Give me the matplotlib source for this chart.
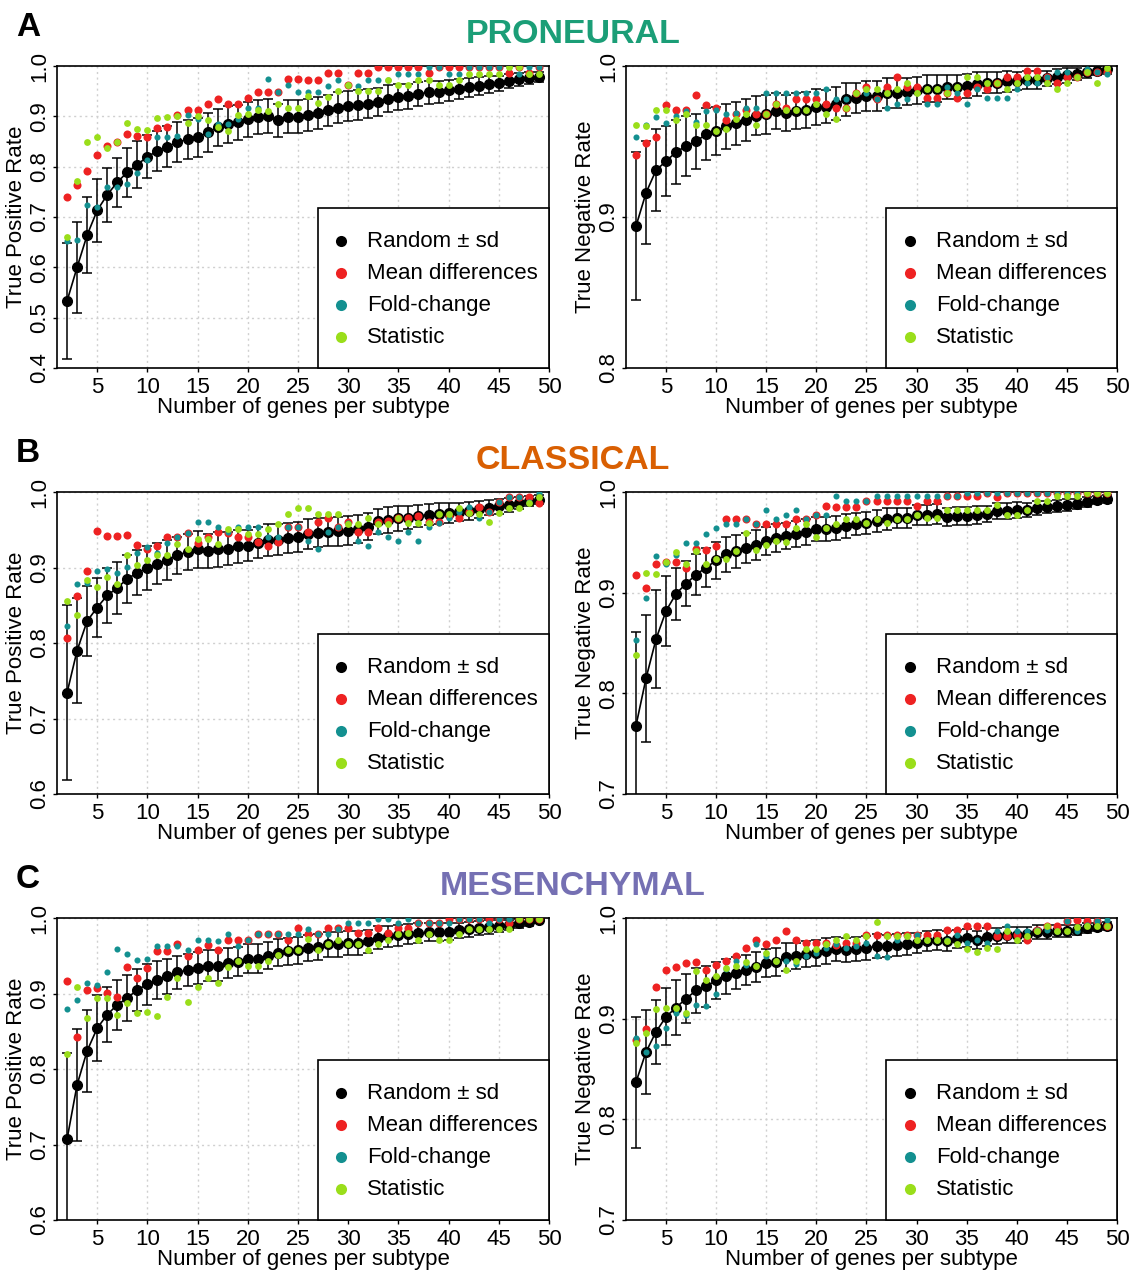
import matplotlib
matplotlib.use("Agg")
import matplotlib.pyplot as plt
from matplotlib.patches import Rectangle

plt.rcParams['font.family'] = ['Liberation Sans', 'DejaVu Sans']

genes = list(range(2, 50))

# ---- PRONEURAL ----
pn_tpr_rand = [0.533, 0.600, 0.664, 0.713, 0.744, 0.769, 0.789, 0.804, 0.820, 0.831,
               0.840, 0.849, 0.854, 0.858, 0.868, 0.878, 0.884, 0.888, 0.894, 0.898,
               0.901, 0.892, 0.899, 0.899, 0.903, 0.907, 0.912, 0.917, 0.920, 0.923,
               0.925, 0.929, 0.935, 0.938, 0.940, 0.944, 0.948, 0.949, 0.952, 0.954,
               0.958, 0.961, 0.964, 0.966, 0.970, 0.974, 0.976, 0.978]
pn_tpr_sd = [0.116, 0.090, 0.076, 0.062, 0.054, 0.049, 0.049, 0.047, 0.043, 0.040,
             0.040, 0.039, 0.038, 0.038, 0.038, 0.036, 0.036, 0.035, 0.035, 0.034,
             0.034, 0.033, 0.033, 0.033, 0.032, 0.032, 0.031, 0.031, 0.030, 0.030,
             0.029, 0.028, 0.027, 0.026, 0.025, 0.024, 0.023, 0.022, 0.021, 0.020,
             0.019, 0.018, 0.017, 0.015, 0.014, 0.013, 0.012, 0.010]
pn_tpr_mean = [0.740, 0.763, 0.792, 0.823, 0.841, 0.849, 0.864, 0.861, 0.859, 0.877,
               0.879, 0.902, 0.912, 0.912, 0.925, 0.935, 0.925, 0.925, 0.937, 0.948,
               0.948, 0.948, 0.974, 0.974, 0.973, 0.973, 0.987, 0.987, 0.962, 0.986,
               0.986, 0.998, 0.998, 0.998, 0.998, 0.998, 0.987, 0.998, 0.998, 0.998,
               0.998, 0.998, 0.998, 0.998, 0.987, 0.998, 0.987, 0.998]
pn_tpr_fold = [0.653, 0.654, 0.723, 0.719, 0.760, 0.760, 0.765, 0.787, 0.813, 0.858,
               0.858, 0.861, 0.902, 0.894, 0.865, 0.884, 0.884, 0.894, 0.917, 0.917,
               0.974, 0.948, 0.962, 0.949, 0.948, 0.948, 0.960, 0.973, 0.963, 0.960,
               0.973, 0.973, 0.973, 0.985, 0.985, 0.985, 0.998, 0.998, 0.985, 0.985,
               0.998, 0.998, 0.998, 0.998, 0.998, 0.985, 0.998, 0.998]
pn_tpr_stat = [0.660, 0.772, 0.849, 0.859, 0.837, 0.849, 0.886, 0.874, 0.872, 0.896,
               0.899, 0.900, 0.887, 0.900, 0.892, 0.879, 0.870, 0.902, 0.904, 0.912,
               0.910, 0.924, 0.917, 0.917, 0.940, 0.927, 0.938, 0.950, 0.963, 0.950,
               0.950, 0.950, 0.973, 0.963, 0.963, 0.973, 0.973, 0.963, 0.963, 0.973,
               0.985, 0.985, 0.985, 0.985, 0.998, 0.998, 0.985, 0.985]

pn_tnr_rand = [0.894, 0.916, 0.931, 0.937, 0.943, 0.947, 0.950, 0.955, 0.957, 0.960,
               0.962, 0.964, 0.967, 0.968, 0.970, 0.969, 0.970, 0.971, 0.973, 0.973,
               0.975, 0.978, 0.979, 0.980, 0.980, 0.982, 0.982, 0.983, 0.984, 0.985,
               0.985, 0.986, 0.986, 0.987, 0.988, 0.989, 0.989, 0.990, 0.990, 0.991,
               0.991, 0.992, 0.993, 0.994, 0.995, 0.996, 0.997, 0.998]
pn_tnr_sd = [0.049, 0.034, 0.027, 0.023, 0.021, 0.020, 0.018, 0.017, 0.016, 0.015,
             0.014, 0.014, 0.013, 0.013, 0.012, 0.012, 0.012, 0.012, 0.012, 0.011,
             0.011, 0.011, 0.010, 0.010, 0.010, 0.010, 0.010, 0.009, 0.009, 0.009,
             0.009, 0.008, 0.008, 0.008, 0.008, 0.007, 0.007, 0.007, 0.006, 0.006,
             0.006, 0.005, 0.005, 0.005, 0.004, 0.004, 0.003, 0.003]
pn_tnr_mean = [0.941, 0.949, 0.953, 0.974, 0.971, 0.971, 0.981, 0.974, 0.972, 0.964,
               0.968, 0.971, 0.968, 0.968, 0.975, 0.972, 0.978, 0.978, 0.978, 0.975,
               0.972, 0.972, 0.982, 0.986, 0.978, 0.986, 0.993, 0.986, 0.986, 0.979,
               0.979, 0.982, 0.979, 0.982, 0.986, 0.985, 0.989, 0.993, 0.993, 0.997,
               0.997, 0.993, 0.989, 0.993, 0.993, 0.996, 0.996, 0.996]
pn_tnr_fold = [0.953, 0.961, 0.966, 0.962, 0.967, 0.970, 0.963, 0.970, 0.971, 0.968,
               0.969, 0.972, 0.972, 0.982, 0.982, 0.982, 0.982, 0.982, 0.982, 0.985,
               0.978, 0.978, 0.982, 0.982, 0.978, 0.972, 0.975, 0.978, 0.982, 0.975,
               0.975, 0.986, 0.982, 0.975, 0.985, 0.979, 0.979, 0.979, 0.985, 0.989,
               0.989, 0.993, 0.996, 0.996, 0.993, 0.998, 0.996, 0.995]
pn_tnr_stat = [0.961, 0.960, 0.971, 0.971, 0.964, 0.968, 0.961, 0.961, 0.957, 0.958,
               0.965, 0.968, 0.961, 0.968, 0.975, 0.971, 0.971, 0.971, 0.975, 0.968,
               0.965, 0.972, 0.982, 0.985, 0.985, 0.982, 0.985, 0.989, 0.982, 0.985,
               0.985, 0.982, 0.986, 0.993, 0.993, 0.989, 0.989, 0.985, 0.989, 0.993,
               0.993, 0.989, 0.985, 0.989, 0.993, 0.996, 0.989, 0.999]

# ---- CLASSICAL ----
cl_tpr_rand = [0.734, 0.790, 0.829, 0.847, 0.863, 0.873, 0.885, 0.893, 0.899, 0.905,
               0.910, 0.916, 0.921, 0.924, 0.922, 0.924, 0.925, 0.928, 0.929, 0.933,
               0.936, 0.937, 0.939, 0.940, 0.944, 0.946, 0.947, 0.948, 0.949, 0.951,
               0.954, 0.961, 0.963, 0.965, 0.966, 0.968, 0.970, 0.971, 0.972, 0.973,
               0.975, 0.977, 0.979, 0.981, 0.983, 0.985, 0.988, 0.990]
cl_tpr_sd = [0.116, 0.070, 0.046, 0.039, 0.036, 0.034, 0.032, 0.030, 0.029, 0.027,
             0.026, 0.025, 0.024, 0.024, 0.023, 0.023, 0.022, 0.022, 0.021, 0.021,
             0.021, 0.020, 0.020, 0.020, 0.020, 0.019, 0.019, 0.019, 0.019, 0.018,
             0.018, 0.017, 0.017, 0.016, 0.015, 0.015, 0.014, 0.014, 0.013, 0.012,
             0.012, 0.011, 0.010, 0.010, 0.009, 0.008, 0.007, 0.006]
cl_tpr_mean = [0.806, 0.862, 0.896, 0.949, 0.942, 0.942, 0.943, 0.930, 0.924, 0.928,
               0.940, 0.940, 0.946, 0.932, 0.941, 0.947, 0.946, 0.940, 0.940, 0.934,
               0.928, 0.934, 0.953, 0.953, 0.947, 0.960, 0.966, 0.953, 0.960, 0.947,
               0.947, 0.960, 0.961, 0.966, 0.966, 0.968, 0.960, 0.960, 0.968, 0.966,
               0.973, 0.980, 0.973, 0.987, 0.993, 0.993, 0.993, 0.986]
cl_tpr_fold = [0.823, 0.878, 0.879, 0.896, 0.898, 0.893, 0.901, 0.919, 0.927, 0.919,
               0.933, 0.940, 0.946, 0.960, 0.960, 0.953, 0.947, 0.953, 0.953, 0.953,
               0.940, 0.940, 0.953, 0.953, 0.935, 0.924, 0.947, 0.953, 0.959, 0.935,
               0.929, 0.947, 0.941, 0.935, 0.947, 0.935, 0.953, 0.959, 0.966, 0.973,
               0.980, 0.966, 0.973, 0.987, 0.993, 0.993, 0.987, 0.999]
cl_tpr_stat = [0.856, 0.837, 0.883, 0.874, 0.887, 0.878, 0.917, 0.903, 0.910, 0.916,
               0.917, 0.931, 0.924, 0.938, 0.938, 0.931, 0.951, 0.951, 0.944, 0.944,
               0.951, 0.958, 0.971, 0.979, 0.979, 0.971, 0.971, 0.971, 0.958, 0.958,
               0.965, 0.958, 0.958, 0.965, 0.959, 0.959, 0.959, 0.971, 0.971, 0.979,
               0.972, 0.971, 0.960, 0.972, 0.979, 0.979, 0.986, 0.993]

cl_tnr_rand = [0.768, 0.815, 0.854, 0.882, 0.899, 0.909, 0.918, 0.925, 0.932, 0.938,
               0.941, 0.944, 0.947, 0.951, 0.954, 0.956, 0.958, 0.960, 0.963, 0.963,
               0.964, 0.966, 0.968, 0.969, 0.971, 0.973, 0.974, 0.974, 0.977, 0.977,
               0.978, 0.975, 0.976, 0.976, 0.977, 0.978, 0.981, 0.981, 0.982, 0.982,
               0.984, 0.985, 0.986, 0.987, 0.988, 0.990, 0.992, 0.993]
cl_tnr_sd = [0.093, 0.063, 0.049, 0.035, 0.026, 0.022, 0.020, 0.019, 0.018, 0.017,
             0.016, 0.015, 0.015, 0.014, 0.014, 0.013, 0.013, 0.013, 0.012, 0.012,
             0.012, 0.012, 0.011, 0.011, 0.011, 0.011, 0.010, 0.010, 0.010, 0.010,
             0.010, 0.009, 0.009, 0.009, 0.009, 0.008, 0.008, 0.008, 0.008, 0.007,
             0.007, 0.006, 0.006, 0.006, 0.005, 0.005, 0.004, 0.004]
cl_tnr_mean = [0.918, 0.905, 0.928, 0.930, 0.930, 0.925, 0.943, 0.942, 0.946, 0.973,
               0.973, 0.973, 0.968, 0.968, 0.968, 0.968, 0.973, 0.973, 0.977, 0.986,
               0.985, 0.985, 0.985, 0.991, 0.991, 0.991, 0.991, 0.991, 0.986, 0.991,
               0.991, 0.996, 0.996, 0.996, 0.996, 0.999, 0.995, 0.999, 0.999, 0.999,
               0.999, 0.999, 0.999, 0.999, 0.999, 0.999, 0.999, 0.999]
cl_tnr_fold = [0.853, 0.895, 0.936, 0.928, 0.937, 0.949, 0.949, 0.958, 0.964, 0.968,
               0.968, 0.973, 0.968, 0.982, 0.973, 0.977, 0.982, 0.973, 0.977, 0.977,
               0.996, 0.991, 0.991, 0.991, 0.996, 0.996, 0.996, 0.996, 0.996, 0.996,
               0.996, 0.996, 0.996, 0.999, 0.999, 0.999, 0.999, 0.999, 0.999, 0.999,
               0.999, 0.999, 0.999, 0.999, 0.999, 0.999, 0.999, 0.999]
cl_tnr_stat = [0.838, 0.920, 0.919, 0.930, 0.940, 0.928, 0.941, 0.928, 0.933, 0.933,
               0.941, 0.959, 0.942, 0.947, 0.951, 0.950, 0.964, 0.968, 0.955, 0.964,
               0.968, 0.973, 0.973, 0.969, 0.973, 0.969, 0.973, 0.973, 0.977, 0.974,
               0.974, 0.982, 0.982, 0.982, 0.982, 0.982, 0.987, 0.977, 0.977, 0.982,
               0.991, 0.991, 0.996, 0.996, 0.996, 0.999, 0.999, 0.999]

# ---- MESENCHYMAL ----
ms_tpr_rand = [0.707, 0.779, 0.824, 0.854, 0.872, 0.885, 0.894, 0.905, 0.912, 0.918,
               0.923, 0.928, 0.931, 0.934, 0.937, 0.937, 0.940, 0.942, 0.946, 0.946,
               0.950, 0.954, 0.956, 0.957, 0.960, 0.962, 0.965, 0.965, 0.967, 0.967,
               0.969, 0.974, 0.976, 0.977, 0.979, 0.980, 0.981, 0.982, 0.982, 0.984,
               0.985, 0.987, 0.988, 0.990, 0.991, 0.993, 0.995, 0.998]
ms_tpr_sd = [0.114, 0.074, 0.054, 0.044, 0.036, 0.033, 0.030, 0.028, 0.027, 0.025,
             0.023, 0.022, 0.021, 0.021, 0.020, 0.020, 0.020, 0.019, 0.019, 0.019,
             0.018, 0.018, 0.018, 0.018, 0.017, 0.017, 0.017, 0.016, 0.016, 0.016,
             0.015, 0.015, 0.014, 0.014, 0.013, 0.013, 0.012, 0.012, 0.011, 0.010,
             0.010, 0.009, 0.009, 0.008, 0.007, 0.006, 0.005, 0.004]
ms_tpr_mean = [0.916, 0.843, 0.905, 0.907, 0.901, 0.895, 0.935, 0.920, 0.934, 0.956,
               0.956, 0.965, 0.950, 0.957, 0.964, 0.957, 0.971, 0.971, 0.971, 0.979,
               0.979, 0.979, 0.971, 0.987, 0.979, 0.979, 0.987, 0.987, 0.987, 0.980,
               0.980, 0.987, 0.980, 0.987, 0.987, 0.993, 0.993, 0.993, 0.999, 0.999,
               0.999, 0.999, 0.999, 0.999, 0.993, 0.999, 0.999, 0.999]
ms_tpr_fold = [0.880, 0.891, 0.914, 0.911, 0.929, 0.959, 0.952, 0.944, 0.946, 0.963,
               0.963, 0.963, 0.957, 0.971, 0.971, 0.970, 0.979, 0.963, 0.971, 0.979,
               0.979, 0.979, 0.979, 0.979, 0.985, 0.979, 0.979, 0.985, 0.993, 0.993,
               0.993, 0.999, 0.999, 0.993, 0.999, 0.993, 0.993, 0.993, 0.993, 0.999,
               0.999, 0.999, 0.993, 0.999, 0.999, 0.999, 0.999, 0.999]
ms_tpr_stat = [0.820, 0.909, 0.867, 0.894, 0.894, 0.872, 0.888, 0.874, 0.875, 0.870,
               0.895, 0.921, 0.889, 0.909, 0.921, 0.914, 0.935, 0.943, 0.937, 0.937,
               0.943, 0.951, 0.957, 0.957, 0.972, 0.958, 0.965, 0.971, 0.965, 0.965,
               0.958, 0.965, 0.971, 0.979, 0.980, 0.971, 0.979, 0.971, 0.971, 0.979,
               0.985, 0.986, 0.986, 0.986, 0.986, 0.999, 0.999, 0.999]

ms_tnr_rand = [0.837, 0.867, 0.887, 0.902, 0.911, 0.920, 0.928, 0.932, 0.938, 0.942,
               0.945, 0.948, 0.951, 0.955, 0.956, 0.961, 0.962, 0.964, 0.965, 0.967,
               0.969, 0.968, 0.969, 0.970, 0.972, 0.972, 0.973, 0.974, 0.975, 0.977,
               0.978, 0.977, 0.979, 0.980, 0.978, 0.981, 0.982, 0.983, 0.983, 0.984,
               0.986, 0.986, 0.987, 0.987, 0.988, 0.990, 0.991, 0.992]
ms_tnr_sd = [0.065, 0.042, 0.032, 0.028, 0.027, 0.024, 0.022, 0.020, 0.018, 0.017,
             0.016, 0.015, 0.015, 0.014, 0.014, 0.014, 0.013, 0.013, 0.013, 0.013,
             0.012, 0.012, 0.012, 0.012, 0.012, 0.011, 0.011, 0.011, 0.010, 0.010,
             0.010, 0.010, 0.009, 0.009, 0.009, 0.009, 0.008, 0.008, 0.008, 0.007,
             0.007, 0.007, 0.006, 0.006, 0.005, 0.005, 0.004, 0.004]
ms_tnr_mean = [0.879, 0.890, 0.931, 0.948, 0.951, 0.955, 0.956, 0.948, 0.953, 0.957,
               0.962, 0.970, 0.978, 0.974, 0.978, 0.987, 0.978, 0.975, 0.975, 0.975,
               0.973, 0.975, 0.975, 0.983, 0.983, 0.983, 0.983, 0.983, 0.983, 0.983,
               0.983, 0.988, 0.988, 0.992, 0.992, 0.992, 0.982, 0.982, 0.983, 0.978,
               0.988, 0.992, 0.992, 0.997, 0.998, 0.997, 0.997, 0.992]
ms_tnr_fold = [0.881, 0.867, 0.873, 0.891, 0.906, 0.904, 0.914, 0.913, 0.925, 0.949,
               0.957, 0.953, 0.974, 0.962, 0.957, 0.957, 0.954, 0.962, 0.965, 0.970,
               0.974, 0.970, 0.972, 0.975, 0.962, 0.961, 0.978, 0.982, 0.983, 0.978,
               0.978, 0.978, 0.983, 0.975, 0.978, 0.975, 0.987, 0.992, 0.987, 0.987,
               0.988, 0.988, 0.987, 0.997, 0.987, 0.993, 0.997, 0.998]
ms_tnr_stat = [0.876, 0.886, 0.910, 0.911, 0.911, 0.906, 0.947, 0.938, 0.942, 0.950,
               0.952, 0.956, 0.952, 0.965, 0.957, 0.948, 0.957, 0.969, 0.969, 0.974,
               0.978, 0.982, 0.978, 0.982, 0.996, 0.982, 0.982, 0.982, 0.978, 0.978,
               0.978, 0.977, 0.974, 0.969, 0.966, 0.970, 0.969, 0.987, 0.978, 0.982,
               0.987, 0.992, 0.987, 0.987, 0.991, 0.992, 0.992, 0.992]

titles = ['PRONEURAL', 'CLASSICAL', 'MESENCHYMAL']
title_colors = ['#1B9E77', '#D95F02', '#7570B3']
letters = ['A', 'B', 'C']
legend_labels = ['Random \u00b1 sd', 'Mean differences', 'Fold-change', 'Statistic']

RED = '#EE2222'
TEAL = '#139090'
LIME = '#9ADE1A'
series_colors = ['black', RED, TEAL, LIME]

W, H = 1135, 1275
fig = plt.figure(figsize=(W / 100, H / 100), dpi=100)


def draw_panel(rect, rand, sd, mean, fold, stat, ylo, yticks, ylabel):
    # rect is (left, top, right, bottom) in pixels
    ax = fig.add_axes([rect[0] / W, 1 - rect[3] / H,
                       (rect[2] - rect[0]) / W, (rect[3] - rect[1]) / H])
    ax.errorbar(genes, rand, yerr=sd, fmt='-o', color='black', ms=7, lw=1.2,
                elinewidth=1.1, capsize=3.6, capthick=1.1, zorder=3)
    ax.plot(genes, mean, 'o', ms=5.8, color=RED, mew=0, zorder=4)
    ax.plot(genes, fold, 'o', ms=4.4, color=TEAL, mew=0, zorder=5)
    ax.plot(genes, stat, 'o', ms=4.9, color=LIME, mew=0, zorder=6)

    ax.set_xlim(1, 50)
    ax.set_ylim(ylo, 1.0)
    ax.set_xticks(range(5, 51, 5))
    ax.set_yticks(yticks)
    ax.set_yticklabels(['%.1f' % t for t in yticks])
    ax.grid(True, color='#d0d0d0', linestyle=(0, (1.5, 2.5)), lw=1)
    ax.set_axisbelow(True)
    for s in ax.spines.values():
        s.set_linewidth(1.2)
    ax.tick_params(length=3, width=1, labelsize=16)
    ax.tick_params(axis='x', pad=3.5)
    ax.tick_params(axis='y', labelrotation=90, pad=2)
    for lab in ax.get_yticklabels():
        lab.set_va('center')

    ax.set_xlabel('Number of genes per subtype', fontsize=16, va='center')
    ax.xaxis.set_label_coords(0.5, -40 / 302)
    ax.set_ylabel(ylabel, fontsize=16, va='center')
    ax.yaxis.set_label_coords(-40 / 491, 0.5)

    # legend box in the lower right
    ax.add_patch(Rectangle((0.53, 0), 0.47, 0.53, transform=ax.transAxes,
                           facecolor='white', edgecolor='black', lw=1.2,
                           zorder=10, clip_on=False))
    for i, (lab, c) in enumerate(zip(legend_labels, series_colors)):
        yy = 0.42 - i * 0.106
        ax.plot([0.578], [yy], 'o', ms=8, color=c, mew=0,
                transform=ax.transAxes, zorder=11, clip_on=False)
        ax.text(0.631, yy, lab, transform=ax.transAxes, fontsize=16,
                va='center', ha='left', zorder=11)
    return ax


rows = [
    (pn_tpr_rand, pn_tpr_sd, pn_tpr_mean, pn_tpr_fold, pn_tpr_stat, 0.4,
     [0.4, 0.5, 0.6, 0.7, 0.8, 0.9, 1.0],
     pn_tnr_rand, pn_tnr_sd, pn_tnr_mean, pn_tnr_fold, pn_tnr_stat, 0.8,
     [0.8, 0.9, 1.0]),
    (cl_tpr_rand, cl_tpr_sd, cl_tpr_mean, cl_tpr_fold, cl_tpr_stat, 0.6,
     [0.6, 0.7, 0.8, 0.9, 1.0],
     cl_tnr_rand, cl_tnr_sd, cl_tnr_mean, cl_tnr_fold, cl_tnr_stat, 0.7,
     [0.7, 0.8, 0.9, 1.0]),
    (ms_tpr_rand, ms_tpr_sd, ms_tpr_mean, ms_tpr_fold, ms_tpr_stat, 0.6,
     [0.6, 0.7, 0.8, 0.9, 1.0],
     ms_tnr_rand, ms_tnr_sd, ms_tnr_mean, ms_tnr_fold, ms_tnr_stat, 0.7,
     [0.7, 0.8, 0.9, 1.0]),
]

tops = [66, 492, 918]
for r, row in enumerate(rows):
    top = tops[r]
    bot = top + 302
    draw_panel((57, top, 549, bot), row[0], row[1], row[2], row[3], row[4],
               row[5], row[6], 'True Positive Rate')
    draw_panel((626, top, 1117, bot), row[7], row[8], row[9], row[10], row[11],
               row[12], row[13], 'True Negative Rate')
    fig.text(573 / W, 1 - (top - 23) / H, titles[r], color=title_colors[r],
             fontsize=24.5, fontweight='bold', ha='center', va='baseline')
    fig.text(28 / W, 1 - (top - 30) / H, letters[r], color='black',
             fontsize=24, fontweight='bold', ha='center', va='baseline')

fig.savefig('out.png', dpi=100)
